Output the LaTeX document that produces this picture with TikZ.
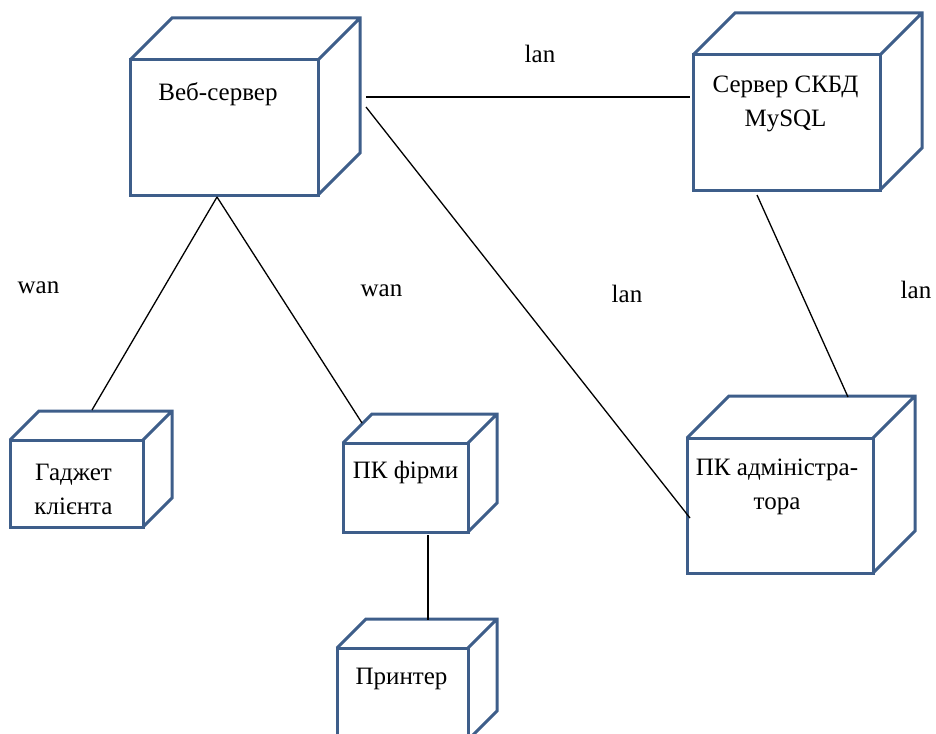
\documentclass[tikz,border=0pt]{standalone}
\usepackage{fontspec}
\setmainfont{Liberation Serif}
\usetikzlibrary{calc}
\definecolor{boxblue}{RGB}{62,94,138}

\begin{document}
\begin{tikzpicture}[x=1pt,y=-1pt,
    dev/.style={draw=boxblue,line width=3pt,fill=white,inner sep=0pt,outer sep=0pt},
    face/.style={draw=boxblue,line width=3pt,line join=miter},
    lbl/.style={align=center,inner sep=0pt},
    link/.style={line width=1.3pt},
    every node/.style={font=\fontsize{25}{34}\selectfont}]
  \clip (0,0) rectangle (936,733);
  % the nodes, drawn as boxes
  \foreach \n/\x/\y/\w/\h/\d in {web/224/127.5/188/135/42, db/786.5/122.5/187/135/42,
      gad/76.5/483.5/133/87/29, pcf/405.5/487.5/125/89/29,
      prn/402.5/694/131/92/29, adm/780/505.5/186/135/42}{
    \node[dev,minimum width=\w pt,minimum height=\h pt] (\n) at (\x,\y) {};
    \draw[face] (\n.north west) -- ++(\d,-\d) -- ++(\w,0) -- ++(0,\h) -- (\n.south east)
      (\n.north east) -- ++(\d,-\d);
  }
  \node[lbl] (web-t) at ($(web.north)+(-6,34)$) {Веб-сервер};
  \node[lbl] (db-t) at ($(db.north)+(-1,49)$) {Сервер СКБД\\MySQL};
  \node[lbl] (gad-t) at ($(gad.north)+(-3,49)$) {Гаджет\\клієнта};
  \node[lbl] (pcf-t) at ($(pcf.north)+(0,29)$) {ПК фірми};
  \node[lbl] (prn-t) at ($(prn.north)+(-1,31)$) {Принтер};
  \node[lbl] (adm-t) at ($(adm.north)+(-3,48.5)$) {ПК адміністра-\\тора};
  % connections
  \draw[link] ($(web.north east)+(48,37)$) -- ($(db.north west)+(-3,42)$);
  \draw[link] ($(web.north east)+(48,47)$) -- ($(adm.west)+(3,12.5)$);
  \draw[link] ($(web.south)+(-7,2)$) -- ($(gad.north)+(15.5,-30)$);
  \draw[link] ($(web.south)+(-7,2)$) -- ($(pcf.north)+(-43.5,-20)$);
  \draw[link] ($(db.south)+(-29.5,5)$) -- ($(adm.north)+(68,-41)$);
  \draw[link] ($(pcf.south)+(22.5,3)$) -- ($(prn.north)+(25.5,-28)$);
  % link kinds
  \node[anchor=base] (lan1) at (540,63) {lan};
  \node[anchor=base] (wan1) at (38.5,293) {wan};
  \node[anchor=base] (wan2) at (381.5,296) {wan};
  \node[anchor=base] (lan2) at (627,302) {lan};
  \node[anchor=base] (lan3) at (916,298) {lan};
\end{tikzpicture}
\end{document}
